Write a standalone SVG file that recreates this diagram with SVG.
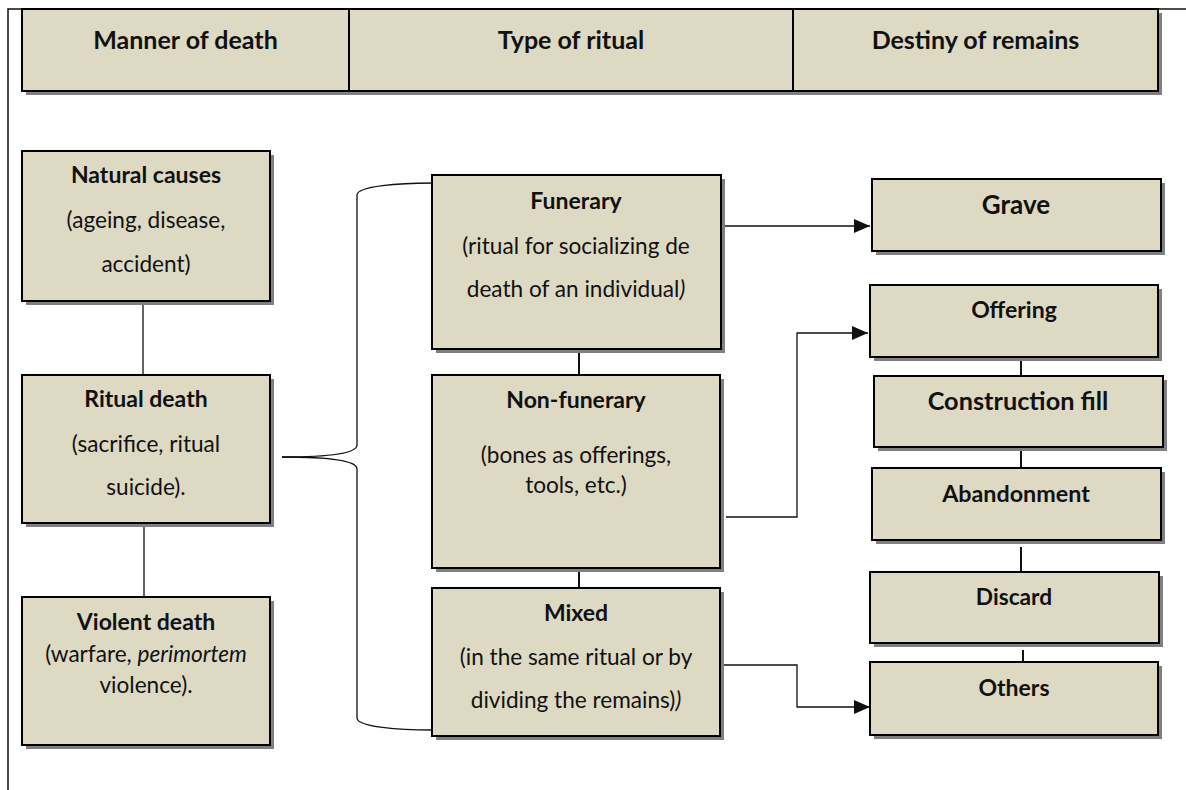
<svg xmlns="http://www.w3.org/2000/svg" width="1186" height="790" viewBox="0 0 1186 790">
<defs>
<style>
.sh{fill:#808080}
.bx{fill:#DDD9C3;stroke:#000;stroke-width:2}
.t{font-family:Lato,"Open Sans",sans-serif;fill:#111;text-anchor:middle}
.b{font-weight:bold}
.hd{font-size:25px;font-weight:bold}
.tl{font-size:23px}
.bd{font-size:22.6px}
.cn{fill:none;stroke:#111;stroke-width:1.3}
.cv{fill:none;stroke:#111;stroke-width:2}
</style>
<marker id="ar" markerUnits="userSpaceOnUse" markerWidth="17" markerHeight="15" refX="16" refY="7" orient="auto">
<path d="M0,0 L16,7 L0,14 z" fill="#111"/>
</marker>
</defs>
<rect width="1186" height="790" fill="#fff"/>
<path d="M8,790 V9 H1186" fill="none" stroke="#111" stroke-width="1.5"/>

<g id="header">
<rect class="sh" x="26" y="13" width="1136" height="82"/>
<rect class="bx" x="22" y="9" width="1136" height="82"/>
<line x1="349" y1="9" x2="349" y2="91" stroke="#000" stroke-width="2"/>
<line x1="793" y1="9" x2="793" y2="91" stroke="#000" stroke-width="2"/>
<text class="t hd" x="185.5" y="49">Manner of death</text>
<text class="t hd" x="571" y="49">Type of ritual</text>
<text class="t hd" x="975.5" y="49">Destiny of remains</text>
</g>

<g id="connectors">
<line class="cn" x1="143" y1="301" x2="143" y2="375"/>
<line class="cn" x1="144" y1="523" x2="144" y2="597"/>
<path class="cn" d="M282,457 C320,457 357,455 357,445 V195 C357,186 400,183 432,183"/>
<path class="cn" d="M282,457 C320,457 357,459 357,469 V718 C357,727 400,730 432,730"/>
<line class="cv" x1="579" y1="349" x2="579" y2="375"/>
<line class="cv" x1="579" y1="568" x2="579" y2="588"/>
<line class="cv" x1="1021" y1="357" x2="1021" y2="376"/>
<line class="cv" x1="1021" y1="447" x2="1021" y2="468"/>
<line class="cv" x1="1021" y1="547" x2="1021" y2="572"/>
<line class="cv" x1="1023" y1="650" x2="1023" y2="662"/>
<line class="cn" x1="724" y1="226" x2="870" y2="226" marker-end="url(#ar)"/>
<polyline class="cn" points="726,517 797,517 797,333 868,333" marker-end="url(#ar)"/>
<polyline class="cn" points="724,665 797,665 797,707 870,707" marker-end="url(#ar)"/>
</g>

<g id="natural">
<rect class="sh" x="26" y="155" width="248" height="150"/>
<rect class="bx" x="22" y="151" width="248" height="150"/>
<text class="t b tl" x="146" y="183">Natural causes</text>
<text class="t bd" x="146" y="228">(ageing, disease,</text>
<text class="t bd" x="146" y="272">accident)</text>
</g>

<g id="ritual">
<rect class="sh" x="26" y="379" width="248" height="148"/>
<rect class="bx" x="22" y="375" width="248" height="148"/>
<text class="t b tl" x="146" y="407">Ritual death</text>
<text class="t bd" x="146" y="452">(sacrifice, ritual</text>
<text class="t bd" x="146" y="495">suicide).</text>
</g>

<g id="violent">
<rect class="sh" x="26" y="601" width="248" height="148"/>
<rect class="bx" x="22" y="597" width="248" height="148"/>
<text class="t b tl" x="146" y="630">Violent death</text>
<text class="t bd" x="146" y="662">(warfare, <tspan font-style="italic">perimortem</tspan></text>
<text class="t bd" x="146" y="693">violence).</text>
</g>

<g id="funerary">
<rect class="sh" x="436" y="179" width="289" height="174"/>
<rect class="bx" x="432" y="175" width="289" height="174"/>
<text class="t b tl" x="576" y="209">Funerary</text>
<text class="t bd" x="576" y="254">(ritual for socializing de</text>
<text class="t bd" x="576" y="297">death of an individual<tspan font-style="italic">)</tspan></text>
</g>

<g id="nonfunerary">
<rect class="sh" x="436" y="379" width="288" height="193"/>
<rect class="bx" x="432" y="375" width="288" height="193"/>
<text class="t b tl" x="576" y="408">Non-funerary</text>
<text class="t bd" x="576" y="463">(bones as offerings,</text>
<text class="t bd" x="576" y="493">tools, etc.)</text>
</g>

<g id="mixed">
<rect class="sh" x="436" y="592" width="288" height="148"/>
<rect class="bx" x="432" y="588" width="288" height="148"/>
<text class="t b tl" x="576" y="621">Mixed</text>
<text class="t bd" x="576" y="665">(in the same ritual or by</text>
<text class="t bd" x="576" y="708">dividing the remains)<tspan font-style="italic">)</tspan></text>
</g>

<g id="grave">
<rect class="sh" x="876" y="183" width="289" height="72"/>
<rect class="bx" x="872" y="179" width="289" height="72"/>
<text class="t b" font-size="26" x="1016" y="214">Grave</text>
</g>

<g id="offering">
<rect class="sh" x="874" y="289" width="288" height="72"/>
<rect class="bx" x="870" y="285" width="288" height="72"/>
<text class="t b" font-size="23" x="1014" y="318">Offering</text>
</g>

<g id="construction">
<rect class="sh" x="878" y="380" width="289" height="71"/>
<rect class="bx" x="874" y="376" width="289" height="71"/>
<text class="t b" font-size="25.3" x="1018" y="410">Construction fill</text>
</g>

<g id="abandonment">
<rect class="sh" x="876" y="472" width="289" height="72"/>
<rect class="bx" x="872" y="468" width="289" height="72"/>
<text class="t b" font-size="23.3" x="1016" y="502">Abandonment</text>
</g>

<g id="discard">
<rect class="sh" x="874" y="576" width="289" height="71"/>
<rect class="bx" x="870" y="572" width="289" height="71"/>
<text class="t b" font-size="22.7" x="1014" y="605">Discard</text>
</g>

<g id="others">
<rect class="sh" x="874" y="666" width="288" height="73"/>
<rect class="bx" x="870" y="662" width="288" height="73"/>
<text class="t b" font-size="23" x="1014" y="696">Others</text>
</g>
</svg>
